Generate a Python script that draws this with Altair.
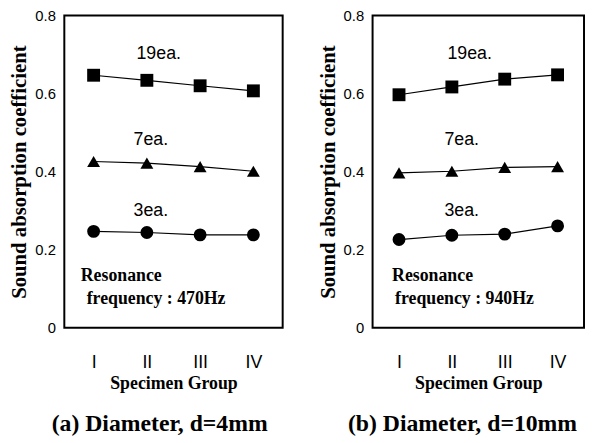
import altair as alt
import pandas as pd

groups = ["I", "II", "III", "IV"]
series = ["19ea.", "7ea.", "3ea."]
shapes = ["square", "triangle-up", "circle"]

# (a) d = 4 mm
a_19 = [0.647, 0.634, 0.620, 0.607]
a_7 = [0.426, 0.422, 0.413, 0.401]
a_3 = [0.247, 0.244, 0.238, 0.238]
# (b) d = 10 mm
b_19 = [0.597, 0.617, 0.637, 0.648]
b_7 = [0.397, 0.401, 0.411, 0.413]
b_3 = [0.226, 0.237, 0.240, 0.261]

label_y = [0.70, 0.48, 0.30]
reso_y = [0.133, 0.073]

SERIF = "Liberation Serif"
SANS = "Liberation Sans"


def panel(v19, v7, v3, caption, freq, width, pad, lab_dx, res_dx, cap_dx):
    df = pd.DataFrame({
        "group": groups * 3,
        "value": v19 + v7 + v3,
        "series": [s for s in series for _ in groups],
    })
    x = alt.X("group:O",
              scale=alt.Scale(type="point", domain=groups, padding=pad),
              axis=alt.Axis(title="Specimen Group", labelAngle=0, ticks=False,
                            domain=False, labelFont=SANS, labelFontSize=18,
                            labelPadding=26, titlePadding=4, titleFontSize=18))
    y = alt.Y("value:Q",
              scale=alt.Scale(domain=[0, 0.8], nice=False, zero=True),
              axis=alt.Axis(title="Sound absorption coefficient",
                            values=[0, 0.2, 0.4, 0.6, 0.8],
                            labelExpr="datum.value == 0 ? '0' : format(datum.value, '.1f')",
                            grid=False, ticks=False, domain=False,
                            labelFont=SANS, labelFontSize=15, labelPadding=9,
                            titlePadding=5, titleFontSize=21))
    base = alt.Chart(df)
    line = base.mark_line(color="black", strokeWidth=1.2).encode(
        x=x, y=y, detail="series:N")
    pts = base.mark_point(filled=True, color="black", opacity=1, size=170).encode(
        x=x, y=y,
        shape=alt.Shape("series:N", scale=alt.Scale(domain=series, range=shapes),
                        legend=None))
    layers = [line, pts]
    for s, ly, dx in zip(series, label_y, lab_dx):
        t = alt.Chart(pd.DataFrame({"group": ["II"], "value": [ly], "t": [s]})).mark_text(
            font=SANS, fontSize=18, color="black", dx=dx, align="center", baseline="middle"
        ).encode(x=x, y=y, text="t:N")
        layers.append(t)
    for txt, ry, dx in zip(["Resonance", freq], reso_y, res_dx):
        t = alt.Chart(pd.DataFrame({"group": ["I"], "value": [ry], "t": [txt]})).mark_text(
            font=SERIF, fontSize=18, fontWeight="bold", color="black", dx=dx,
            align="left", baseline="middle"
        ).encode(x=x, y=y, text="t:N")
        layers.append(t)
    return alt.layer(*layers).properties(
        width=width, height=316,
        title=alt.TitleParams(caption, orient="bottom", anchor="middle", frame="group",
                              dx=cap_dx, offset=20, font=SERIF, fontSize=24,
                              fontWeight="bold", color="black"))


left = panel(a_19, a_7, a_3, "(a) Diameter, d=4mm", "frequency : 470Hz",
             221, 0.55, [12, 4, 4], [-13, -7], -14)
right = panel(b_19, b_7, b_3, "(b)  Diameter, d=10mm", "frequency : 940Hz",
              214, 0.5, [18, 10, 10], [-7, -4], -16)

chart = alt.hconcat(left, right, spacing=33).properties(
    padding={"left": 0, "top": -3, "right": 0, "bottom": 0}
).configure_view(stroke="black", strokeWidth=2).configure_axis(
    labelColor="black", titleColor="black", titleFont=SERIF, titleFontWeight="bold"
)

chart.save("out.html", embed_options={"renderer": "svg", "actions": False})
